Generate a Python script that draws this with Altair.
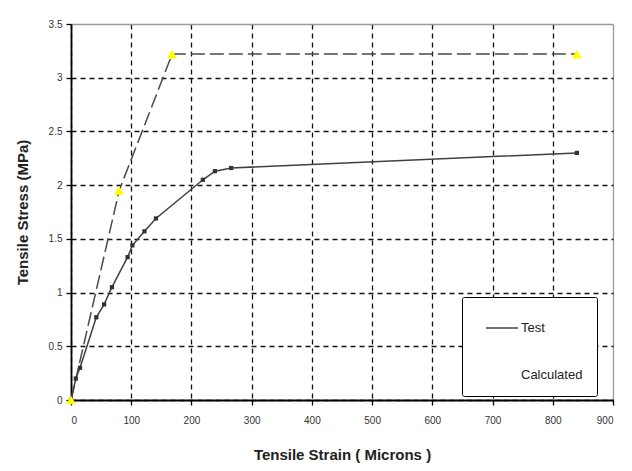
import altair as alt
import pandas as pd

# Data
test_strain = [0, 8, 15, 42, 55, 68, 94, 102, 122, 141, 219, 239, 266, 840]
test_stress = [0, 0.2, 0.3, 0.77, 0.89, 1.05, 1.33, 1.44, 1.57, 1.69, 2.05, 2.13, 2.16, 2.30]
calc_strain = [0, 80, 168, 840]
calc_stress = [0, 1.95, 3.22, 3.22]
series_names = ["Test", "Calculated"]
x_ticks = [0, 100, 200, 300, 400, 500, 600, 700, 800, 900]
y_ticks = [0, 0.5, 1, 1.5, 2, 2.5, 3, 3.5]

test_df = pd.DataFrame({"strain": test_strain, "stress": test_stress, "series": "Test"})
calc_df = pd.DataFrame({"strain": calc_strain, "stress": calc_stress, "series": "Calculated"})

FONT = "Liberation Sans"

grid_color_x = {"condition": {"test": "datum.value >= 900", "value": "#9a9a9a"}, "value": "#111111"}
grid_dash_x = {"condition": {"test": "datum.value >= 900", "value": []}, "value": [5, 4]}
grid_color_y = {"condition": {"test": "datum.value >= 3.5", "value": "#9a9a9a"}, "value": "#111111"}
grid_dash_y = {"condition": {"test": "datum.value >= 3.5", "value": []}, "value": [5, 4]}

common_axis = dict(
    domainColor="#000000", domainWidth=1.8, tickColor="#000000", tickSize=5, tickWidth=1.3,
    labelFont=FONT, labelFontSize=10, labelColor="#333333",
    titleFont=FONT, titleFontSize=15, titleFontWeight="bold", titleColor="#222222",
    gridWidth=1.3,
)

x_enc = alt.X("strain:Q", scale=alt.Scale(domain=[0, 900], nice=False),
              axis=alt.Axis(values=x_ticks, title="Tensile Strain ( Microns )", format="d",
                            gridColor=grid_color_x, gridDash=grid_dash_x,
                            titlePadding=22, labelPadding=10, **common_axis))
y_enc = alt.Y("stress:Q", scale=alt.Scale(domain=[0, 3.5], nice=False),
              axis=alt.Axis(values=y_ticks, title="Tensile Stress (MPa)", format="~g",
                            gridColor=grid_color_y, gridDash=grid_dash_y,
                            titlePadding=18, labelPadding=4, **common_axis))

color_scale = alt.Scale(domain=series_names, range=["#404040", "#ffffff"])

test_line = alt.Chart(test_df).mark_line(strokeWidth=1.5).encode(
    x=x_enc, y=y_enc,
    color=alt.Color("series:N", scale=color_scale,
                    legend=alt.Legend(title=None, orient="none", legendX=391, legendY=273,
                                      strokeColor="#000000", padding=14, cornerRadius=2,
                                      symbolType="stroke", symbolSize=1024, symbolStrokeWidth=1.5,
                                      symbolOffset=9, labelOffset=2, rowPadding=23,
                                      labelFont=FONT, labelFontSize=13, labelColor="#222222",
                                      fillColor="#ffffff")),
)
test_pts = alt.Chart(test_df).mark_square(size=18, color="#333333", opacity=1).encode(x=x_enc, y=y_enc)

calc_line = alt.Chart(calc_df).mark_line(strokeWidth=1.5, strokeDash=[14, 5], color="#4a4a4a").encode(
    x=x_enc, y=y_enc)
calc_pts = alt.Chart(calc_df).mark_point(shape="triangle-up", size=100, filled=True,
                                          color="#ffff00", opacity=1).encode(x=x_enc, y=y_enc)

chart = alt.layer(calc_line, test_line, test_pts, calc_pts).properties(
    width=542, height=376,
    autosize=alt.AutoSizeParams(type="none"),
    padding={"left": 63, "top": 16, "right": 10, "bottom": 70},
).configure_view(
    stroke="#9a9a9a", strokeWidth=1.5
).configure(background="#ffffff")

chart.save("out.html", embed_options={"renderer": "svg", "actions": False})
